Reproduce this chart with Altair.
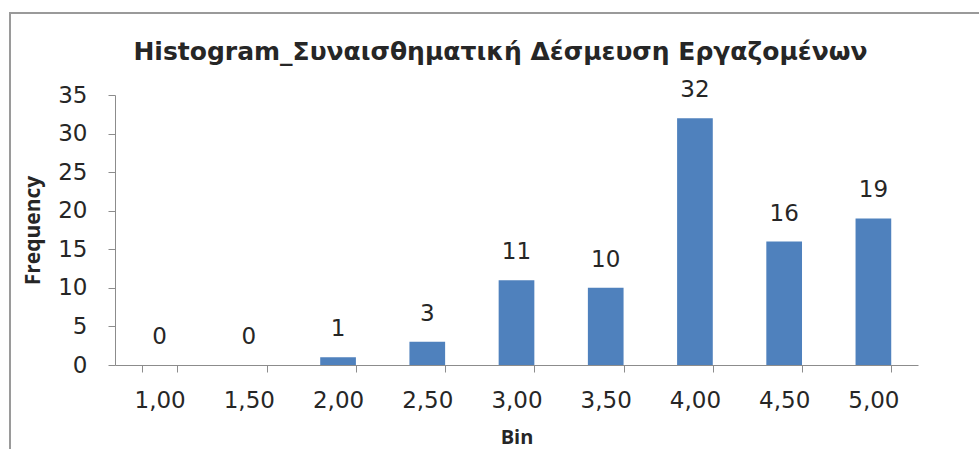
import altair as alt
import pandas as pd

# Histogram bins and their frequencies
bins = ["1,00", "1,50", "2,00", "2,50", "3,00", "3,50", "4,00", "4,50", "5,00"]
freq = [0, 0, 1, 3, 11, 10, 32, 16, 19]
y_ticks = [0, 5, 10, 15, 20, 25, 30, 35]

df = pd.DataFrame({"Bin": bins, "Frequency": freq})

BAR = "#4F81BD"
TXT = "#262626"
AXC = "#8C8C8C"
FONT = "DejaVu Sans"

base = alt.Chart(df)

x_enc = alt.X(
    "Bin:N",
    sort=bins,
    scale=alt.Scale(paddingInner=0.6, paddingOuter=0.3),
    axis=alt.Axis(
        title="Bin",
        labelAngle=0,
        tickBand="extent",
        tickSize=7,
        tickColor=AXC,
        domainColor=AXC,
        labelFont=FONT,
        labelFontSize=23,
        labelColor=TXT,
        labelPadding=17,
        titleFont="Open Sans",
        titleFontWeight="bold",
        titleFontSize=20,
        titleColor=TXT,
        titleY=72,
        titleBaseline="middle",
    ),
)

y_enc = alt.Y(
    "Frequency:Q",
    scale=alt.Scale(domain=[0, 35], nice=False),
    axis=alt.Axis(
        title="Frequency",
        values=y_ticks,
        grid=False,
        tickSize=7,
        tickColor=AXC,
        domainColor=AXC,
        labelFont=FONT,
        labelFontSize=23,
        labelColor=TXT,
        labelPadding=21,
        titleFont="Open Sans",
        titleFontWeight="bold",
        titleFontSize=21,
        titleColor=TXT,
        titleX=-82,
        titleY=135,
        titleAngle=270,
        titleAlign="center",
        titleBaseline="middle",
    ),
)

bars = base.mark_bar(color=BAR).encode(x=x_enc, y=y_enc)

labels = base.mark_text(
    baseline="bottom", dy=-16, font=FONT, fontSize=23, color=TXT
).encode(x=x_enc, y=y_enc, text="Frequency:Q")

# Outer frame around the chart
frame = alt.Chart(pd.DataFrame({"f": [0]})).mark_rect(
    fill=None, stroke="#9A9A9A", strokeWidth=2, clip=False
).encode(
    x=alt.value(-105), x2=alt.value(880), y=alt.value(-82), y2=alt.value(370)
)

chart = (
    alt.layer(bars, labels, frame)
    .properties(
        width=803,
        height=270,
        background="white",
        title=alt.TitleParams(
            "Histogram_Συναισθηματική Δέσμευση Εργαζομένων",
            font="DejaVu Sans",
            fontWeight="bold",
            fontSize=25,
            color=TXT,
            anchor="middle",
            baseline="alphabetic",
            dx=-16,
            offset=-73,
        ),
        padding={"left": 115, "top": 95, "right": 61, "bottom": 84},
        autosize=alt.AutoSizeParams(type="none"),
    )
    .configure_view(stroke=None, strokeWidth=0)
)

chart.save("out.html", embed_options={"renderer": "svg", "actions": False})
